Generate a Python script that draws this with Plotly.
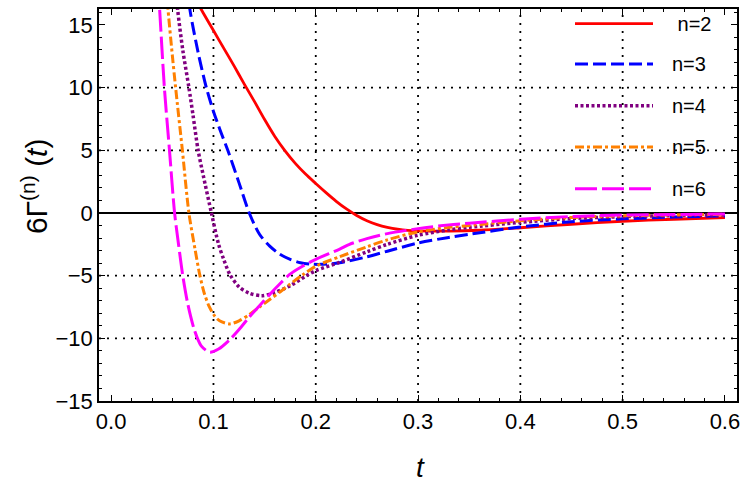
import plotly.graph_objects as go

# ---------------- data ----------------
t2 = [0.080, 0.090, 0.100, 0.110, 0.120, 0.130, 0.140, 0.150, 0.160, 0.170, 0.180, 0.190, 0.200,
      0.210, 0.220, 0.230, 0.240, 0.250, 0.260, 0.270, 0.280, 0.290, 0.310, 0.330, 0.360, 0.400,
      0.450, 0.500, 0.550, 0.600]
y2 = [17.4, 15.95, 14.55, 13.15, 11.75, 10.3, 8.9, 7.45, 6.1, 4.95, 3.95, 3.1, 2.35,
      1.62, 0.93, 0.32, -0.2, -0.62, -0.93, -1.15, -1.3, -1.39, -1.45, -1.45, -1.38, -1.18,
      -0.9, -0.66, -0.5, -0.38]

t3 = [0.072, 0.077, 0.085, 0.093, 0.100, 0.107, 0.114, 0.125, 0.135, 0.145, 0.155, 0.165, 0.175,
      0.185, 0.195, 0.205, 0.215, 0.223, 0.250, 0.270, 0.300, 0.330, 0.350, 0.400, 0.450, 0.500,
      0.550, 0.600]
y3 = [19.5, 16.2, 12.8, 10.0, 8.1, 6.5, 5.0, 2.4, 0.0, -1.7, -2.65, -3.3, -3.7,
      -3.97, -4.08, -4.1, -4.05, -3.98, -3.5, -3.05, -2.4, -1.95, -1.7, -1.12, -0.7, -0.47,
      -0.33, -0.24]

t4 = [0.061, 0.065, 0.070, 0.076, 0.080, 0.085, 0.090, 0.098, 0.105, 0.110, 0.116, 0.125, 0.135,
      0.147, 0.160, 0.175, 0.190, 0.200, 0.223, 0.250, 0.270, 0.300, 0.330, 0.350, 0.400, 0.450,
      0.500, 0.550, 0.600]
y4 = [19.5, 16.2, 13.0, 10.0, 7.8, 5.0, 3.0, 0.0, -2.5, -3.7, -4.9, -5.9, -6.4,
      -6.6, -6.35, -5.8, -5.05, -4.6, -3.95, -3.1, -2.5, -1.78, -1.35, -1.15, -0.75, -0.45,
      -0.3, -0.21, -0.15]

t5 = [0.052, 0.0556, 0.060, 0.063, 0.0696, 0.076, 0.082, 0.0865, 0.091, 0.096, 0.101, 0.106,
      0.116, 0.125, 0.135, 0.145, 0.155, 0.165, 0.1745, 0.187, 0.200, 0.223, 0.250, 0.270, 0.300,
      0.330, 0.350, 0.400, 0.450, 0.500, 0.550, 0.600]
y5 = [19.8, 16.2, 12.4, 10.0, 5.0, 0.0, -2.9, -4.9, -6.4, -7.5, -8.2, -8.6,
      -8.85, -8.6, -8.1, -7.5, -6.9, -6.3, -5.7, -4.95, -4.25, -3.5, -2.7, -2.15, -1.5,
      -1.15, -1.0, -0.62, -0.36, -0.23, -0.15, -0.11]

t6 = [0.044, 0.0474, 0.052, 0.057, 0.062, 0.066, 0.070, 0.075, 0.0816, 0.088, 0.0963, 0.105,
      0.116, 0.125, 0.135, 0.145, 0.155, 0.165, 0.1745, 0.187, 0.200, 0.223, 0.233, 0.250, 0.270,
      0.300, 0.330, 0.350, 0.400, 0.450, 0.500, 0.550, 0.600]
y6 = [20.5, 16.2, 10.0, 5.0, 0.0, -2.6, -5.0, -7.3, -9.4, -10.6, -11.1, -10.85,
      -10.1, -9.3, -8.3, -7.4, -6.5, -5.65, -4.9, -4.25, -3.7, -2.9, -2.5, -2.05, -1.65,
      -1.25, -0.95, -0.82, -0.5, -0.28, -0.17, -0.12, -0.08]

labels = [" n=2", "n=3", "n=4", "n=5", "n=6"]
colors = ["#FF0000", "#0000FF", "#800080", "#FF8000", "#FF00FF"]
dashes = ["solid", "13px,5px", "3px,2.5px", "9px,3px,3px,3px", "22px,5px"]
widths = [2.8, 3.0, 3.5, 3.0, 3.0]

grid_x = [0.1, 0.2, 0.3, 0.4, 0.5]
grid_y = [-10, -5, 5, 10]

series = [(t2, y2), (t3, y3), (t4, y4), (t5, y5), (t6, y6)]

# ---------------- figure ----------------
FONT = "Liberation Sans, Arial, sans-serif"
fig = go.Figure()
for (tt, yy), lab, c, d, w in zip(series, labels, colors, dashes, widths):
    fig.add_trace(go.Scatter(x=tt, y=yy, mode="lines", name=lab.strip(),
                             line=dict(color=c, dash=d, width=w, shape="spline", smoothing=0.8),
                             showlegend=False, hoverinfo="skip"))

shapes = []
for gx in grid_x:
    shapes.append(dict(type="line", xref="x", yref="paper", x0=gx, x1=gx, y0=0, y1=1,
                       line=dict(color="black", width=1.8, dash="2px,6px"), layer="below"))
for gy in grid_y:
    shapes.append(dict(type="line", xref="paper", yref="y", x0=0, x1=1, y0=gy, y1=gy,
                       line=dict(color="black", width=1.8, dash="2px,6px"), layer="below"))

# custom legend (long line samples like the reference)
W, H = 747, 487
L, R, T, B = 99, 10, 7, 86
PW, PH = W - L - R, H - T - B


def px_x(p):
    return (p - L) / PW


def px_y(p):
    return (H - B - p) / PH


leg_y = [21.7, 62.3, 104.3, 145.7, 187.7]
annotations = []
for i, (lab, c, d, w) in enumerate(zip(labels, colors, dashes, widths)):
    yy = px_y(leg_y[i])
    shapes.append(dict(type="line", xref="paper", yref="paper", x0=px_x(575), x1=px_x(653),
                       y0=yy, y1=yy, line=dict(color=c, width=w, dash=d)))
    annotations.append(dict(xref="paper", yref="paper", x=px_x(670), y=yy, text=lab,
                            showarrow=False, xanchor="left", yanchor="middle",
                            font=dict(family=FONT, size=20, color="black")))

annotations.append(dict(xref="paper", yref="paper", x=px_x(420), y=px_y(468), text="<i>t</i>",
                        showarrow=False, xanchor="center", yanchor="middle",
                        font=dict(family=FONT, size=28, color="black")))
annotations.append(dict(xref="paper", yref="paper", x=px_x(35), y=px_y(185),
                        text="6Γ<sup>(n)</sup> (<i>t</i>)", textangle=-90,
                        showarrow=False, xanchor="center", yanchor="middle",
                        font=dict(family=FONT, size=30, color="black")))

axis_common = dict(showline=True, linecolor="black", linewidth=1.5, mirror="allticks",
                   ticks="inside", ticklen=6, tickwidth=1.2, tickcolor="black",
                   showgrid=False, tickfont=dict(family=FONT, size=22, color="black"))

fig.update_layout(
    width=W, height=H,
    margin=dict(l=L, r=R, t=T, b=B, pad=0),
    paper_bgcolor="white", plot_bgcolor="white",
    xaxis=dict(range=[-0.0119, 0.6118], tick0=0, dtick=0.1, tickformat=".1f",
               minor=dict(dtick=0.02, ticks="inside", ticklen=3, tickcolor="black", tickwidth=1),
               zeroline=False, **axis_common),
    yaxis=dict(range=[-15, 16.27], tick0=0, dtick=5,
               minor=dict(dtick=1, ticks="inside", ticklen=3, tickcolor="black", tickwidth=1),
               zeroline=True, zerolinecolor="black", zerolinewidth=2, **axis_common),
    shapes=shapes,
    annotations=annotations,
    showlegend=False,
)

fig.write_html("out.html", config={"displayModeBar": False},
               post_script="document.body.style.margin='0';")
